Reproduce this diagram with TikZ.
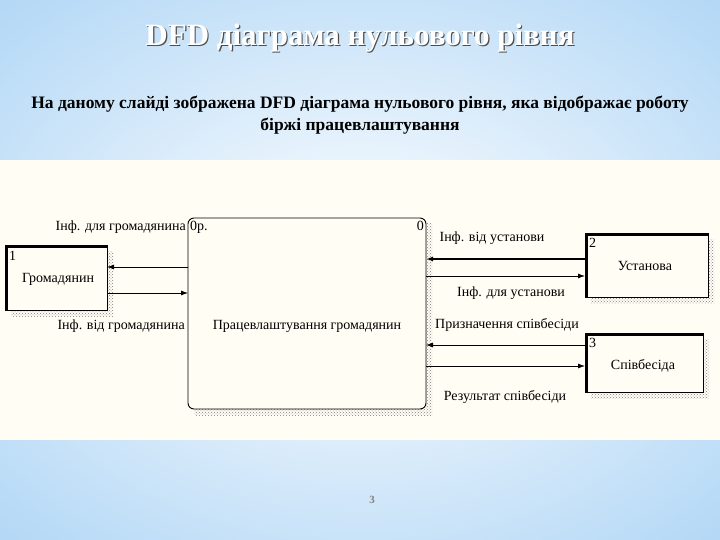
\documentclass[tikz,border=0pt]{standalone}
\usepackage{fontspec}
\setmainfont{Liberation Serif}
\usetikzlibrary{patterns,arrows.meta}
\begin{document}
\begin{tikzpicture}[x=1pt,y=-1pt,
  lbl/.style={font=\fontsize{14}{15}\selectfont, inner sep=1pt},
  box/.style={draw=black, fill=cream, line width=0.9pt, inner sep=0pt},
  shad/.style={pattern=crosshatch dots, pattern color=gray},
  flow/.style={-{Latex[length=7pt,width=5pt]}, line width=0.8pt}]
\definecolor{cream}{HTML}{FFFDF4}
\definecolor{bluebg}{HTML}{B4D8F6}
\useasboundingbox (0,0) rectangle (720,540);
\shade[inner color=white, outer color=bluebg] (-150,-100) rectangle (870,640);
\fill[cream] (0,160) rectangle (720,440);
% title
\node[text=gray!60!black, font=\bfseries\fontsize{31}{33}\selectfont] (t0) at (361.2,39.2) {DFD діаграма нульового рівня};
\node[text=white, font=\bfseries\fontsize{31}{33}\selectfont] (t) at (360,38) {DFD діаграма нульового рівня};
\node[font=\bfseries\fontsize{17.5}{22}\selectfont, align=center] (sub) at (360,115) {На даному слайді зображена DFD діаграма нульового рівня, яка відображає роботу\\ біржі працевлаштування};
% shadows
\fill[shad] (194,224) rectangle (432,415);
\fill[shad] (11,251) rectangle (113,316);
\fill[shad] (591,239) rectangle (714,303);
\fill[shad] (591,339) rectangle (709,398);
% process
\draw[box, rounded corners=6pt] (188,218) rectangle (426,409);
\node[lbl, anchor=north west] (p0) at (189,220) {0р.};
\node[lbl, anchor=north east] (p1) at (425,220) {0};
\node[lbl] (proc) at (307,326) {Працевлаштування громадянин};
% external entities
\draw[box] (5,245) rectangle (107,310);
\draw[line width=3pt] (6.5,310) -- (6.5,246.5) -- (107,246.5);
\node[lbl, anchor=north west] (c1) at (8,250) {1};
\node[lbl] (cit) at (58,279) {Громадянин};
\draw[box] (585,233) rectangle (708,297);
\draw[line width=3pt] (586.5,297) -- (586.5,234.5) -- (708,234.5);
\node[lbl, anchor=north west] (u1) at (588,237) {2};
\node[lbl] (ust) at (645,266) {Установа};
\draw[box] (585,333) rectangle (703,392);
\draw[line width=3pt] (586.5,392) -- (586.5,334.5) -- (703,334.5);
\node[lbl, anchor=north west] (s1) at (588,337) {3};
\node[lbl] (spb) at (643,366) {Співбесіда};
% flows
\coordinate (a1) at (188,267); \coordinate (a2) at (107,267);
\coordinate (b1) at (107,293); \coordinate (b2) at (188,293);
\coordinate (c1a) at (585,259); \coordinate (c2) at (426,259);
\coordinate (d1) at (426,276); \coordinate (d2) at (585,276);
\coordinate (e1) at (585,345); \coordinate (e2) at (426,345);
\coordinate (f1) at (426,366); \coordinate (f2) at (585,366);
\draw[flow] (a1) -- (a2);
\draw[flow] (b1) -- (b2);
\draw[flow, line width=1.4pt] (c1a) -- (c2);
\draw[flow] (d1) -- (d2);
\draw[flow] (e1) -- (e2);
\draw[flow] (f1) -- (f2);
\node[lbl, anchor=east] (l1) at (187,227) {Інф. для громадянина};
\node[lbl, anchor=east] (l2) at (186,326) {Інф. від громадянина};
\node[lbl] (l3) at (492,238) {Інф. від установи};
\node[lbl] (l4) at (511,293) {Інф. для установи};
\node[lbl] (l5) at (507,325) {Призначення співбесіди};
\node[lbl] (l6) at (505,397) {Результат співбесіди};
\node[text=gray, font=\bfseries\fontsize{11}{12}\selectfont] (pg) at (372,500) {3};
\end{tikzpicture}
\end{document}
